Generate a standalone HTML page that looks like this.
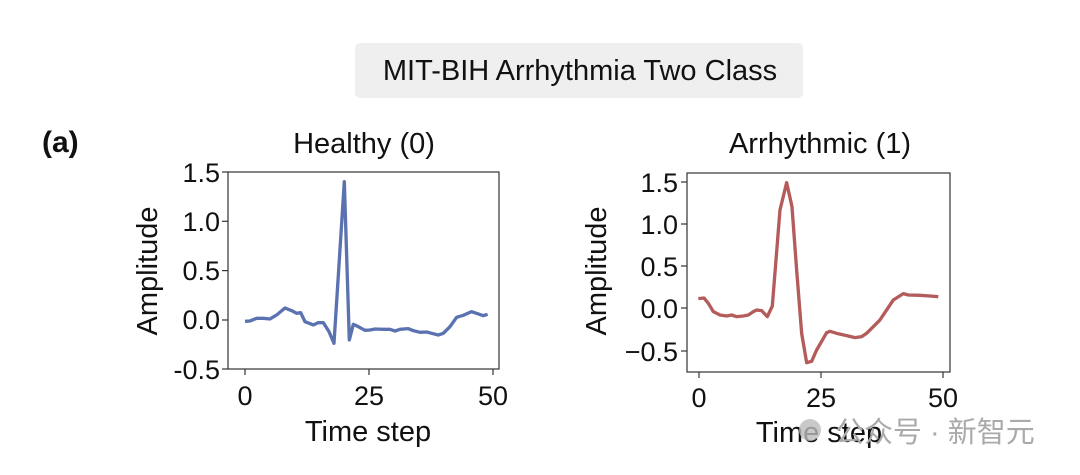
<!DOCTYPE html>
<html><head><meta charset="utf-8"><style>
html,body{margin:0;padding:0;background:#fff;}
svg{display:block;}
text{font-family:"Liberation Sans",Arial,sans-serif;fill:#111;}
</style></head><body>
<svg width="1080" height="475" viewBox="0 0 1080 475" xmlns="http://www.w3.org/2000/svg">
<rect x="355" y="43" width="448" height="55" rx="5" fill="#efefef"/>
<text x="580" y="80" font-size="29" text-anchor="middle">MIT-BIH Arrhythmia Two Class</text>
<text x="42" y="152" font-size="30" font-weight="bold">(a)</text>

<!-- Left panel -->
<text x="364" y="153" font-size="29" text-anchor="middle">Healthy (0)</text>
<rect x="228" y="172" width="271" height="197" fill="none" stroke="#333" stroke-width="1.2"/>
<g stroke="#333" stroke-width="1.2">
<line x1="222" y1="172" x2="228" y2="172"/><line x1="222" y1="221.3" x2="228" y2="221.3"/><line x1="222" y1="270.6" x2="228" y2="270.6"/><line x1="222" y1="320" x2="228" y2="320"/><line x1="222" y1="369" x2="228" y2="369"/>
<line x1="245" y1="369" x2="245" y2="375"/><line x1="369" y1="369" x2="369" y2="375"/><line x1="493" y1="369" x2="493" y2="375"/>
</g>
<g font-size="27" text-anchor="end">
<text x="220" y="182">1.5</text><text x="220" y="231">1.0</text><text x="220" y="280">0.5</text><text x="220" y="329">0.0</text><text x="220" y="379">-0.5</text>
</g>
<g font-size="27" text-anchor="middle">
<text x="245" y="405">0</text><text x="369" y="405">25</text><text x="493" y="405">50</text>
</g>
<text x="368" y="441" font-size="29" text-anchor="middle">Time step</text>
<text transform="translate(157,271) rotate(-90)" font-size="29" text-anchor="middle">Amplitude</text>
<g transform="translate(130,160) scale(0.3333)">
<polyline fill="none" stroke="#5b72b0" stroke-width="10" stroke-linejoin="round" points="345,484 360,483 380,475 400,475 420,477 440,465 465,444 485,452 500,460 512,458 525,485 550,495 565,488 580,488 597,515 612,550 643,65 658,540 670,493 685,500 705,511 720,510 735,507 760,508 780,508 795,513 810,508 835,506 850,512 870,517 890,516 905,520 925,525 940,520 960,500 980,472 1000,466 1025,455 1045,462 1060,467 1073,463"/>
</g>

<!-- Right panel -->
<text x="820" y="153" font-size="29" text-anchor="middle">Arrhythmic (1)</text>
<rect x="687" y="173" width="263" height="199" fill="none" stroke="#333" stroke-width="1.2"/>
<g stroke="#333" stroke-width="1.2">
<line x1="681" y1="182" x2="687" y2="182"/><line x1="681" y1="224" x2="687" y2="224"/><line x1="681" y1="266" x2="687" y2="266"/><line x1="681" y1="308" x2="687" y2="308"/><line x1="681" y1="351" x2="687" y2="351"/>
<line x1="699" y1="372" x2="699" y2="378"/><line x1="821" y1="372" x2="821" y2="378"/><line x1="943" y1="372" x2="943" y2="378"/>
</g>
<g font-size="27" text-anchor="end">
<text x="678" y="192">1.5</text><text x="678" y="234">1.0</text><text x="678" y="276">0.5</text><text x="678" y="318">0.0</text><text x="678" y="361">−0.5</text>
</g>
<g font-size="27" text-anchor="middle">
<text x="699" y="407">0</text><text x="821" y="407">25</text><text x="943" y="407">50</text>
</g>
<text x="819" y="442" font-size="29" text-anchor="middle">Time step</text>
<text transform="translate(606,271) rotate(-90)" font-size="29" text-anchor="middle">Amplitude</text>
<g transform="translate(580,160) scale(0.3333)">
<polyline fill="none" stroke="#b45b5b" stroke-width="10" stroke-linejoin="round" points="355,416 372,414 385,430 400,455 420,465 440,468 455,465 470,470 490,468 505,465 520,455 530,450 545,452 562,470 577,438 600,150 620,68 636,140 650,330 665,520 680,608 695,604 710,570 740,518 750,514 770,520 800,527 825,533 845,530 860,520 880,500 900,480 920,450 940,420 970,401 985,405 1020,406 1050,408 1075,410"/>
</g>

<!-- watermark -->
<circle cx="810" cy="430" r="11" fill="#bbb" opacity="0.8"/>
<text x="835" y="442" font-size="29" style="fill:#aaa;font-family:'Liberation Sans','Noto Sans CJK SC',sans-serif;">公众号 · 新智元</text>
</svg>
</body></html>
